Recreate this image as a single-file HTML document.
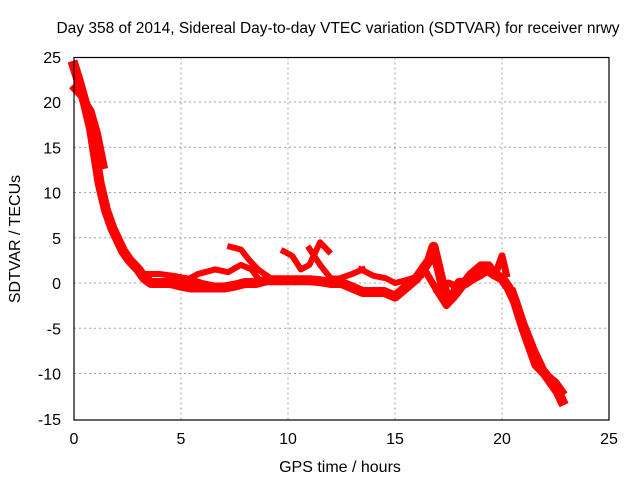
<!DOCTYPE html>
<html><head><meta charset="utf-8"><style>
body{margin:0;background:#fff}
svg{display:block;font-family:"Liberation Sans",sans-serif}
</style></head><body>
<svg id="chart" width="640" height="480" viewBox="0 0 640 480">
<text x="338" y="33" font-size="15.5" text-anchor="middle" fill="#000">Day 358 of 2014, Sidereal Day-to-day VTEC variation (SDTVAR) for receiver nrwy</text>
<text x="340" y="472" font-size="16" text-anchor="middle">GPS time / hours</text>
<text transform="translate(20,239) rotate(-90)" font-size="16" text-anchor="middle">SDTVAR / TECUs</text>
<g id="grid"></g>
<g id="marks"></g>
<rect x="74" y="57.5" width="535" height="362.5" fill="none" stroke="#000" stroke-width="1.2"/>
<g id="ticks"></g>
</svg>
<script>
const xTicks=[0,5,10,15,20,25];
const yTicks=[25,20,15,10,5,0,-5,-10,-15];
const mainT=[0,0.2,0.5,0.8,1,1.2,1.5,1.8,2,2.3,2.6,3,3.3,3.6,4,4.5,5,5.5,6,6.5,7,7.5,8,8.5,9,9.5,10,10.5,11,11.5,12,12.5,13,13.5,14,14.5,15,15.5,16,16.3,16.6,16.8,17,17.2,17.5,17.8,18,18.3,18.6,19,19.3,19.6,20,20.3,20.6,21,21.3,21.6,22,22.3,22.6,22.8];
const mainV=[24,22.5,20,17,14,11,8,6,5,3.5,2.5,1.5,0.5,0,0,0,-0.3,-0.5,-0.5,-0.5,-0.5,-0.3,0,0,0.3,0.3,0.3,0.3,0.3,0.2,0,0,-0.5,-1,-1,-1,-1.5,-0.5,0.5,1.5,2.5,4,2,0,-2,-1,0,0,0.5,1,1.5,1,0.5,-0.5,-2,-5,-7,-9,-10,-11,-12,-13];
const branchA_T=[0,0.4,0.8,1.1,1.4];
const branchA_V=[21.5,20.5,19,16.5,13];
const branchB_T=[3.3,4,4.6,5.3,6,6.6];
const branchB_V=[1,1,0.8,0.5,0,-0.3];
const branchC_T=[5,5.8,6.6,7.2,7.8,8.3,8.6];
const branchC_V=[0,1,1.5,1.2,2,1.5,0.5];
const branchD_T=[7.3,7.8,8.2,8.6,9.2];
const branchD_V=[4,3.7,2.5,1.5,0.5];
const branchE_T=[9.8,10.2,10.6,11,11.5,11.9];
const branchE_V=[3.5,3,1.5,2,4.5,3.5];
const branchF_T=[11,11.5,12,12.4,13,13.5];
const branchF_V=[3.8,2,0.5,0.5,1,1.5];
const branchG_T=[13.4,14,14.6,15,15.5,16.2];
const branchG_V=[1.5,0.8,0.5,0,0.3,0.8];
const branchH_T=[17,17.5,18,18.5,19,19.4,19.7,20,20.2];
const branchH_V=[-1,0,-0.5,1,2,2,1,3,1];
const branchI_T=[16.5,17,17.4,17.8,18.3];
const branchI_V=[1,-1,-2.5,-1.5,0];
const branchJ_T=[20.5,21,21.5,22,22.5,22.8];
const branchJ_V=[-1,-4.5,-7.5,-10,-11,-12];
const X=t=>74+t*21.4, Y=v=>283-v*9.05;
const grid=document.getElementById('grid'),ticks=document.getElementById('ticks'),marks=document.getElementById('marks');
const NS='http://www.w3.org/2000/svg';
function mk(tag,attrs,parent){const e=document.createElementNS(NS,tag);for(const k in attrs)e.setAttribute(k,attrs[k]);parent.appendChild(e);return e;}
xTicks.forEach(t=>{
 if(t>0&&t<25){const g=mk('line',{x1:X(t),x2:X(t),y1:57.5,y2:420,stroke:'#a0a0a0','stroke-dasharray':'2,3'},grid);
 
 }
 const l=mk('text',{x:X(t),y:444,'font-size':16,'text-anchor':'middle'},ticks);l.textContent=t;
 
 
});
yTicks.forEach(v=>{
 if(v<25&&v>-15){const g=mk('line',{x1:74,x2:609,y1:Y(v),y2:Y(v),stroke:'#a0a0a0','stroke-dasharray':'2,3'},grid);
 
 }
 const l=mk('text',{x:61,y:Y(v)+6,'font-size':16,'text-anchor':'end'},ticks);l.textContent=v;
 
 
});
const series=[[mainT,mainV,10],[branchA_T,branchA_V,7],[branchB_T,branchB_V,6],[branchC_T,branchC_V,6],[branchD_T,branchD_V,6],[branchE_T,branchE_V,6],[branchF_T,branchF_V,6],[branchG_T,branchG_V,6],[branchH_T,branchH_V,7],[branchI_T,branchI_V,7],[branchJ_T,branchJ_V,8]];
series.forEach(([ts,vs,w])=>{
 const p=mk('polyline',{points:ts.map((t,i)=>X(t)+','+Y(vs[i])).join(' '),fill:'none',stroke:'#ff0000','stroke-width':w,'stroke-linejoin':'round','stroke-linecap':'square'},marks);
 
 
});
</script>
</body></html>
